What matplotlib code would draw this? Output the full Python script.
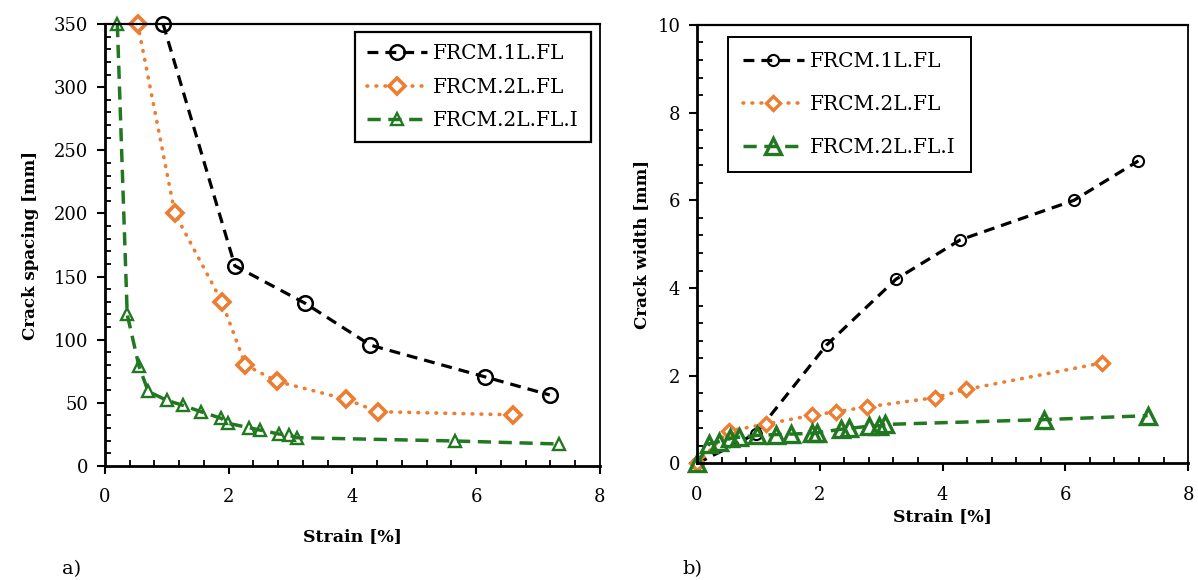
import matplotlib
matplotlib.use("Agg")
import matplotlib.pyplot as plt
from matplotlib.ticker import MultipleLocator

plt.rcParams['font.family'] = ['DejaVu Serif']

# crack spacing vs strain
s1_x = [0.94, 2.10, 3.24, 4.29, 6.14, 7.19]
s1_y = [350, 158.5, 128.7, 95.7, 70.6, 56.2]
s2_x = [0.53, 1.13, 1.89, 2.27, 2.78, 3.89, 4.41, 6.60]
s2_y = [350, 200, 130, 80, 67, 53, 43, 40.5]
s3_x = [0.20, 0.36, 0.55, 0.70, 1.00, 1.26, 1.55, 1.88, 1.99, 2.33, 2.50, 2.81, 2.97, 3.10, 5.65, 7.34]
s3_y = [350, 120, 79, 59, 52, 48, 43, 37.7, 33.8, 30.3, 28.5, 25.3, 24.5, 22.4, 19.8, 17.4]

# crack width vs strain
w1_x = [0, 0.96, 2.11, 3.24, 4.29, 6.14, 7.19]
w1_y = [0, 0.68, 2.7, 4.2, 5.1, 6.0, 6.9]
w2_x = [0, 0.52, 1.13, 1.88, 2.27, 2.77, 3.87, 4.39, 6.59]
w2_y = [0, 0.74, 0.90, 1.10, 1.18, 1.29, 1.50, 1.69, 2.29]
w3_x = [0, 0.20, 0.36, 0.54, 0.69, 0.98, 1.29, 1.53, 1.88, 1.96, 2.34, 2.48, 2.80, 2.96, 3.07, 5.65, 7.34]
w3_y = [0, 0.45, 0.50, 0.57, 0.60, 0.64, 0.66, 0.67, 0.69, 0.70, 0.78, 0.80, 0.85, 0.86, 0.89, 1.00, 1.09]

names = ['FRCM.1L.FL', 'FRCM.2L.FL', 'FRCM.2L.FL.I']
orange = '#ED7D31'
green = '#217821'
dash_k = (0, (3.4, 2.2))
dot_o = (0, (0.2, 2.3))
dash_g = (0, (3.8, 2.2))

fig = plt.figure(figsize=(11.98, 5.8), dpi=100)
ax1 = fig.add_axes([0.0876, 0.1966, 0.4132, 0.762])
ax2 = fig.add_axes([0.5818, 0.2009, 0.4099, 0.7561])

# left plot
ax1.plot(s1_x, s1_y, color='black', ls=dash_k, lw=2.3, marker='o', ms=10.5,
         mfc='none', mec='black', mew=1.8, label=names[0])
ax1.plot(s2_x, s2_y, color=orange, ls=dot_o, lw=2.6, dash_capstyle='round',
         marker='D', ms=8, mfc='white', mec=orange, mew=2.6, label=names[1])
ax1.plot(s3_x, s3_y, color=green, ls=dash_g, lw=2.5, marker='^', ms=9,
         mfc='none', mec=green, mew=1.7, label=names[2])
ax1.set_xlim(0, 8)
ax1.set_ylim(0, 350)
ax1.yaxis.set_major_locator(MultipleLocator(50))
ax1.yaxis.set_minor_locator(MultipleLocator(10))
ax1.set_ylabel('Crack spacing [mm]', fontsize=12, fontweight='bold', labelpad=11)
ax1.set_xlabel('Strain [%]', fontsize=12.5, fontweight='bold', labelpad=16)
leg1 = ax1.legend(loc='upper right', bbox_to_anchor=(1.002, 1.004), fontsize=14.5,
                  handlelength=3.0, labelspacing=0.72, borderpad=0.6, handletextpad=0.3,
                  fancybox=False, edgecolor='black', framealpha=1)
leg1.get_frame().set_linewidth(1.6)

# right plot
ax2.plot(w1_x, w1_y, color='black', ls=dash_k, lw=2.3, marker='o', ms=8,
         mfc='none', mec='black', mew=1.5, label=names[0])
ax2.plot(w2_x, w2_y, color=orange, ls=dot_o, lw=2.6, dash_capstyle='round',
         marker='D', ms=7, mfc='white', mec=orange, mew=2.4, label=names[1])
ax2.plot(w3_x, w3_y, color=green, ls=dash_g, lw=2.5, marker='^', ms=11,
         mfc='none', mec=green, mew=2.4, label=names[2])
ax2.set_xlim(0, 8)
ax2.set_ylim(0, 10)
ax2.yaxis.set_major_locator(MultipleLocator(2))
ax2.yaxis.set_minor_locator(MultipleLocator(0.4))
ax2.set_ylabel('Crack width [mm]', fontsize=12, fontweight='bold', labelpad=5)
ax2.set_xlabel('Strain [%]', fontsize=12.5, fontweight='bold', labelpad=3)
leg2 = ax2.legend(loc='upper left', bbox_to_anchor=(0.043, 0.996), fontsize=14.5,
                  handlelength=3.0, labelspacing=1.2, borderpad=0.75, handletextpad=0.3,
                  fancybox=False, edgecolor='black', framealpha=1)
leg2.get_frame().set_linewidth(1.4)

for ax in (ax1, ax2):
    ax.xaxis.set_major_locator(MultipleLocator(2))
    ax.xaxis.set_minor_locator(MultipleLocator(0.4))
    ax.tick_params(which='major', direction='out', length=6, width=1.5, labelsize=13, pad=10)
    ax.tick_params(axis='y', which='major', pad=6)
    ax.tick_params(which='minor', direction='in', length=4, width=1.3)
    ax.spines['left'].set_linewidth(2)
    ax.spines['bottom'].set_linewidth(2)
    ax.spines['top'].set_linewidth(1.6)
    ax.spines['right'].set_linewidth(1.3)
    for line in ax.get_lines():
        line.set_clip_on(False)

fig.text(0.052, 0.010, 'a)', fontsize=14)
fig.text(0.570, 0.010, 'b)', fontsize=14)

fig.savefig('out.png', dpi=100)
